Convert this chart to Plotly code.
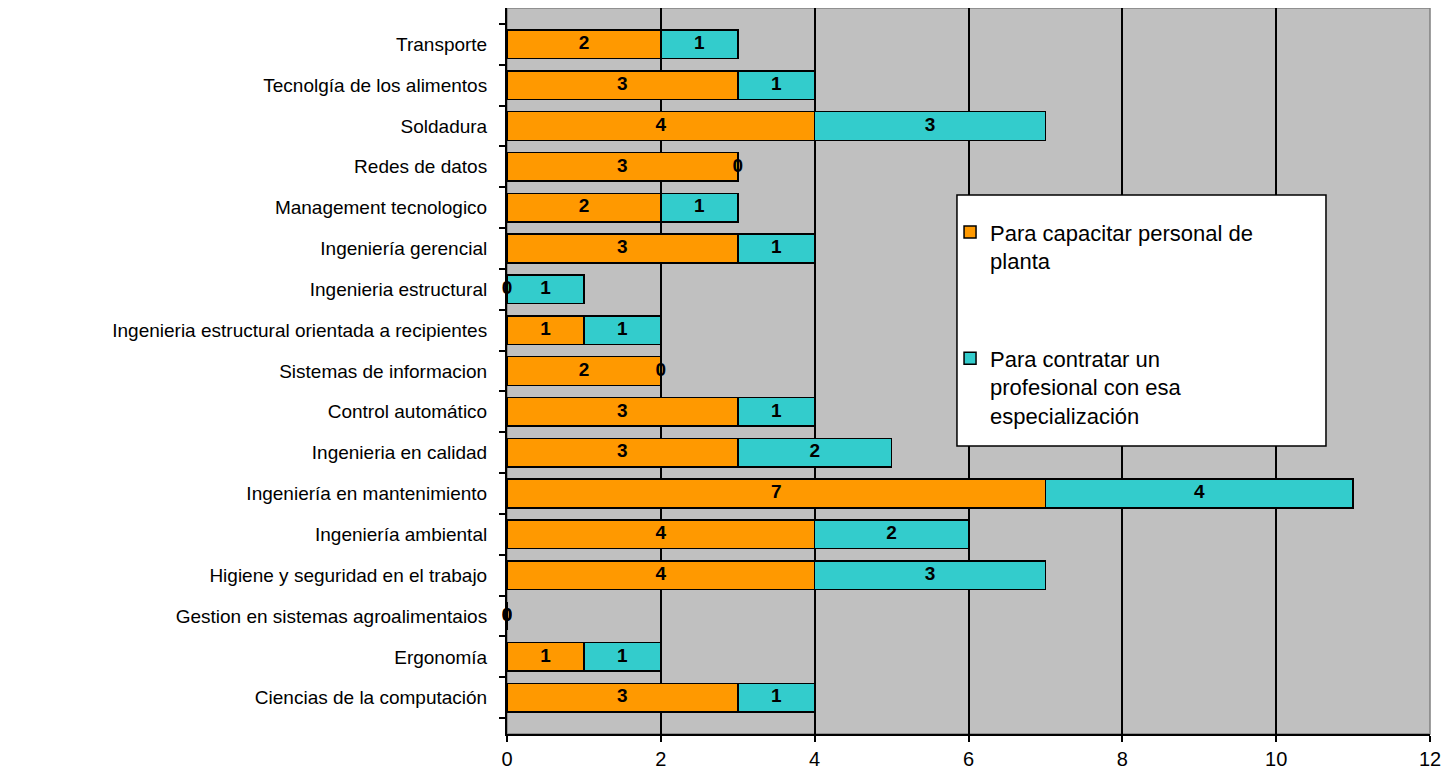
import plotly.graph_objects as go

categories = [
    "Ciencias de la computación",
    "Ergonomía",
    "Gestion en sistemas agroalimentaios",
    "Higiene y seguridad en el trabajo",
    "Ingeniería ambiental",
    "Ingeniería en mantenimiento",
    "Ingenieria en calidad",
    "Control automático",
    "Sistemas de informacion",
    "Ingenieria estructural orientada a recipientes",
    "Ingenieria estructural",
    "Ingeniería gerencial",
    "Management tecnologico",
    "Redes de datos",
    "Soldadura",
    "Tecnolgía de los alimentos",
    "Transporte",
]
capacitar = [3, 1, 0, 4, 4, 7, 3, 3, 2, 1, 0, 3, 2, 3, 4, 3, 2]
contratar = [1, 1, 0, 3, 2, 4, 2, 1, 0, 1, 1, 1, 1, 0, 3, 1, 1]
x_ticks = [0, 2, 4, 6, 8, 10, 12]

name_cap = "Para capacitar personal de<br>planta"
name_con = "Para contratar un<br>profesional con esa<br>especialización"

ORANGE = "#FF9900"
TEAL = "#33CCCC"
FONT = "Liberation Sans, Arial, sans-serif"

fig = go.Figure()
fig.add_trace(go.Bar(
    y=categories, x=capacitar, orientation="h", name=name_cap,
    marker=dict(color=ORANGE, line=dict(color="black", width=1.5)),
    legendgroup="a",
))
fig.add_trace(go.Bar(
    y=categories, x=contratar, orientation="h", name=name_con,
    marker=dict(color=TEAL, line=dict(color="black", width=1.5)),
    legendgroup="b",
))

# data labels (centered in each segment)
fig.add_trace(go.Scatter(
    y=categories, x=[v / 2 for v in capacitar], mode="text",
    text=[str(v) for v in capacitar], showlegend=False, cliponaxis=False,
    textfont=dict(family=FONT, size=19, color="black", weight="bold"),
    hoverinfo="skip",
))
fig.add_trace(go.Scatter(
    y=categories, x=[a + b / 2 for a, b in zip(capacitar, contratar)], mode="text",
    text=[str(v) for v in contratar], showlegend=False, cliponaxis=False,
    textfont=dict(family=FONT, size=19, color="black", weight="bold"),
    hoverinfo="skip",
))

# legend frame
fig.add_shape(type="rect", xref="paper", yref="paper",
              x0=0.4875, x1=0.8873, y0=0.3967, y1=0.7424,
              fillcolor="white", line=dict(color="black", width=1.5), layer="above")
# plot border (gray top/right)
fig.add_shape(type="rect", xref="paper", yref="paper",
              x0=0, x1=1, y0=0, y1=1,
              line=dict(color="#808080", width=1.5), layer="below")

fig.update_layout(
    width=1445, height=766,
    margin=dict(l=499, r=23, t=0, b=40),
    barmode="stack", bargap=0.3,
    plot_bgcolor="#C0C0C0", paper_bgcolor="white",
    font=dict(family=FONT, size=19, color="black"),
    showlegend=True,
    legend=dict(
        x=0.48, y=0.72, xanchor="left", yanchor="top",
        bgcolor="rgba(0,0,0,0)", borderwidth=0,
        font=dict(family=FONT, size=22, color="black"),
        tracegroupgap=66, valign="top", traceorder="grouped",
    ),
    xaxis=dict(
        range=[0, 12], tickvals=x_ticks, ticks="outside", ticklen=6,
        tickcolor="black", tickwidth=2,
        showgrid=True, gridcolor="black", gridwidth=2,
        showline=True, linecolor="black", linewidth=2,
        zeroline=False, tickfont=dict(size=20),
    ),
    yaxis=dict(
        type="category", categoryorder="array", categoryarray=categories,
        ticks="outside", ticklen=6, tickcolor="black", tickwidth=2,
        tickson="boundaries", showgrid=False,
        showline=True, linecolor="black", linewidth=2,
        ticklabelstandoff=14, tickfont=dict(size=19),
    ),
)

fig.write_html("out.html")
